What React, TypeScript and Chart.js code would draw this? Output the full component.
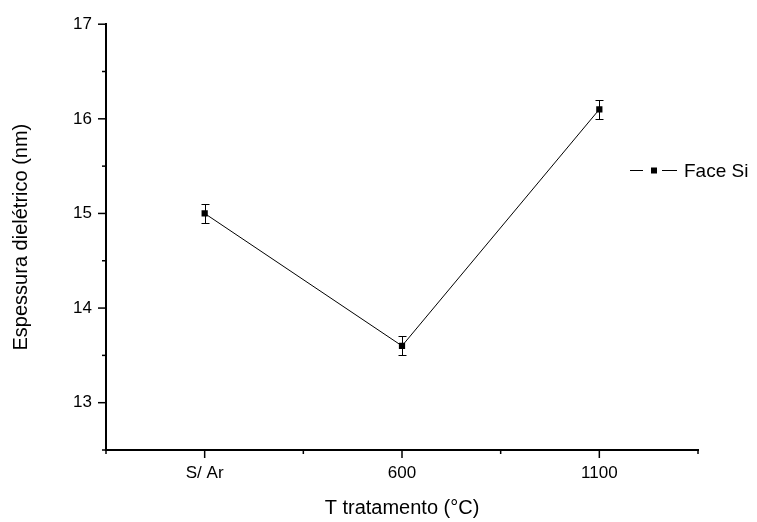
import React, { useEffect, useRef } from 'react';
import { Chart, registerables } from 'chart.js';

Chart.register(...registerables);

const categories = ['S/ Ar', '600', '1100'];
const thickness = [15.0, 13.6, 16.1];
const thicknessErr = [0.1, 0.1, 0.1];
const yMajorTicks = [13, 14, 15, 16, 17];
const yMinorTicks = [12.5, 13.5, 14.5, 15.5, 16.5];
const xMajorTicks = [1, 2, 3];
const xMinorTicks = [0.5, 1.5, 2.5, 3.5];
const seriesName = 'Face Si';
const xTitle = 'T tratamento (°C)';
const yTitle = 'Espessura dielétrico (nm)';

const FONT = '"Liberation Sans", Arial, sans-serif';

const decorPlugin = {
  id: 'decor',
  beforeDatasetsDraw(chart: any) {
    const ctx = chart.ctx;
    const xs = chart.scales.x;
    const ys = chart.scales.y;
    ctx.save();
    ctx.strokeStyle = '#000';
    ctx.lineWidth = 1;
    thickness.forEach((v, i) => {
      const px = Math.round(xs.getPixelForValue(i + 1)) + 0.5;
      const top = Math.round(ys.getPixelForValue(v + thicknessErr[i])) + 0.5;
      const bot = Math.round(ys.getPixelForValue(v - thicknessErr[i])) + 0.5;
      ctx.beginPath();
      ctx.moveTo(px, top);
      ctx.lineTo(px, bot);
      ctx.moveTo(px - 4, top);
      ctx.lineTo(px + 4, top);
      ctx.moveTo(px - 4, bot);
      ctx.lineTo(px + 4, bot);
      ctx.stroke();
    });
    ctx.restore();
  },
  afterDraw(chart: any) {
    const ctx = chart.ctx;
    const xs = chart.scales.x;
    const ys = chart.scales.y;
    const area = chart.chartArea;
    ctx.save();
    ctx.strokeStyle = '#000';
    ctx.lineWidth = 1.5;
    yMajorTicks.forEach((v) => {
      const py = ys.getPixelForValue(v);
      ctx.beginPath();
      ctx.moveTo(area.left, py);
      ctx.lineTo(area.left - 8, py);
      ctx.stroke();
    });
    yMinorTicks.forEach((v) => {
      const py = ys.getPixelForValue(v);
      ctx.beginPath();
      ctx.moveTo(area.left, py);
      ctx.lineTo(area.left - 4, py);
      ctx.stroke();
    });
    xMajorTicks.forEach((v) => {
      const px = xs.getPixelForValue(v);
      ctx.beginPath();
      ctx.moveTo(px, area.bottom);
      ctx.lineTo(px, area.bottom + 8);
      ctx.stroke();
    });
    xMinorTicks.forEach((v) => {
      const px = xs.getPixelForValue(v);
      ctx.beginPath();
      ctx.moveTo(px, area.bottom);
      ctx.lineTo(px, area.bottom + 4);
      ctx.stroke();
    });
    ctx.fillStyle = '#000';
    ctx.font = `20px ${FONT}`;
    ctx.textAlign = 'center';
    ctx.textBaseline = 'middle';
    ctx.fillText(xTitle, (area.left + area.right) / 2, 508);
    ctx.save();
    ctx.translate(21, (area.top + area.bottom) / 2);
    ctx.rotate(-Math.PI / 2);
    ctx.fillText(yTitle, 0, 0);
    ctx.restore();
    const ly = 170.5;
    ctx.lineWidth = 1;
    ctx.beginPath();
    ctx.moveTo(630, ly);
    ctx.lineTo(643, ly);
    ctx.moveTo(662, ly);
    ctx.lineTo(677, ly);
    ctx.stroke();
    ctx.fillRect(651, ly - 3, 6, 6);
    ctx.font = `19px ${FONT}`;
    ctx.textAlign = 'left';
    ctx.textBaseline = 'middle';
    ctx.fillText(seriesName, 684, ly + 1);
    ctx.restore();
  },
};

export default function App() {
  const ref = useRef<HTMLCanvasElement | null>(null);
  useEffect(() => {
    if (!ref.current) return;
    const chart = new Chart(ref.current, {
      type: 'line',
      data: {
        datasets: [
          {
            label: seriesName,
            data: thickness.map((v, i) => ({ x: i + 1, y: v })),
            borderColor: '#000',
            backgroundColor: '#000',
            borderWidth: 1,
            pointStyle: 'rect',
            pointRadius: 4.4,
            pointBorderWidth: 0,
            tension: 0,
          },
        ],
      },
      options: {
        animation: false,
        responsive: false,
        devicePixelRatio: 1,
        layout: { padding: { top: 20, right: 59, left: 0, bottom: 0 } },
        plugins: { legend: { display: false }, tooltip: { enabled: false } },
        scales: {
          x: {
            type: 'linear',
            min: 0.5,
            max: 3.5,
            afterBuildTicks: (s: any) => {
              s.ticks = xMajorTicks.map((v) => ({ value: v }));
            },
            afterFit: (s: any) => {
              s.height = 72;
            },
            ticks: {
              callback: (v: any) => categories[Number(v) - 1] ?? '',
              color: '#000',
              font: { family: FONT, size: 17 },
              padding: 13,
              maxRotation: 0,
              autoSkip: false,
            },
            grid: { display: false, drawTicks: false },
            border: { display: true, color: '#000', width: 2 },
          },
          y: {
            type: 'linear',
            min: 12.5,
            max: 17,
            afterBuildTicks: (s: any) => {
              s.ticks = yMajorTicks.map((v) => ({ value: v }));
            },
            afterFit: (s: any) => {
              s.width = 106;
            },
            ticks: {
              color: '#000',
              font: { family: FONT, size: 17 },
              padding: 14,
            },
            grid: { display: false, drawTicks: false },
            border: { display: true, color: '#000', width: 2 },
          },
        },
      },
      plugins: [decorPlugin],
    });
    return () => chart.destroy();
  }, []);
  return (
    <div style={{ position: 'absolute', left: 0, top: 0, width: 757, height: 522, background: '#fff' }}>
      <canvas ref={ref} width={757} height={522} />
    </div>
  );
}
